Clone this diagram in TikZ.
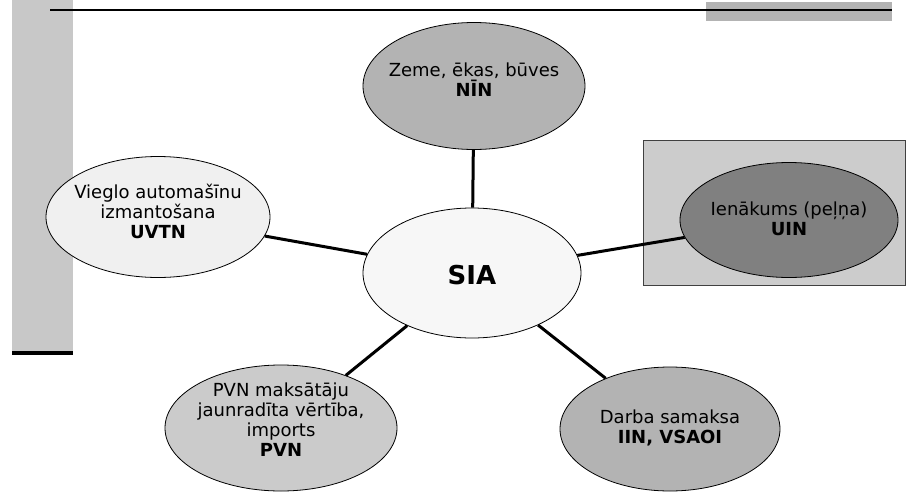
\documentclass[tikz,border=0pt]{standalone}
\usepackage{fontspec}
\setmainfont{DejaVu Sans}
\usetikzlibrary{shapes.geometric}
\definecolor{barg}{HTML}{C8C8C8}
\definecolor{topg}{HTML}{B3B3B3}
\definecolor{ninf}{HTML}{B3B3B3}
\definecolor{siaf}{HTML}{F7F7F7}
\definecolor{uvtnf}{HTML}{F0F0F0}
\definecolor{uinf}{HTML}{808080}
\definecolor{uinbox}{HTML}{CCCCCC}
\definecolor{pvnf}{HTML}{CBCBCB}
\definecolor{iinf}{HTML}{B3B3B3}
\tikzset{
  oval/.style={ellipse, draw=black, line width=0.8pt, inner sep=0pt},
  txt/.style={inner sep=0pt, align=center, font=\fontsize{18}{20}\selectfont},
  link/.style={line width=3pt, black},
}
\begin{document}
\begin{tikzpicture}[x=1pt,y=-1pt]
\useasboundingbox (0,0) rectangle (906,493);
% decorations
\fill[barg] (12,0) rectangle (73,352);
\fill[black] (12,351) rectangle (73,355);
\fill[topg] (706,2) rectangle (892,21);
\draw[line width=2pt] (50,10) -- (892,10);
\draw[draw=black!75, fill=uinbox, line width=0.8pt] (643,140) rectangle (905,285);
% nodes
\node[oval, fill=ninf, minimum width=222pt, minimum height=127pt] (nin) at (474,86) {};
\node[txt] (nint) at (474,80) {Zeme, ēkas, būves\\\textbf{NĪN}};
\node[oval, fill=siaf, minimum width=218pt, minimum height=130pt] (sia) at (472,273) {};
\node[txt, font=\fontsize{26}{30}\selectfont\bfseries] (siat) at (472,275) {SIA};
\node[oval, fill=uvtnf, minimum width=224pt, minimum height=121pt] (uvtn) at (158,217) {};
\node[txt] (uvtnt) at (158,211) {Vieglo automašīnu\\izmantošana\\\textbf{UVTN}};
\node[oval, fill=uinf, minimum width=218pt, minimum height=115pt] (uin) at (789,220) {};
\node[txt] (uint) at (789,219) {Ienākums (peļņa)\\\textbf{UIN}};
\node[oval, fill=pvnf, minimum width=232pt, minimum height=126pt] (pvn) at (281,428) {};
\node[txt] (pvnt) at (281,420) {PVN maksātāju\\jaunradīta vērtība,\\imports\\\textbf{PVN}};
\node[oval, fill=iinf, minimum width=220pt, minimum height=124pt] (iin) at (670,429) {};
\node[txt] (iint) at (670,428) {Darba samaksa\\\textbf{IIN, VSAOI}};
% connectors
\draw[link] (sia) -- (nin);
\draw[link] (sia) -- (uvtn);
\draw[link] (sia) -- (uin);
\draw[link] (sia) -- (pvn);
\draw[link] (sia) -- (iin);
\end{tikzpicture}
\end{document}
